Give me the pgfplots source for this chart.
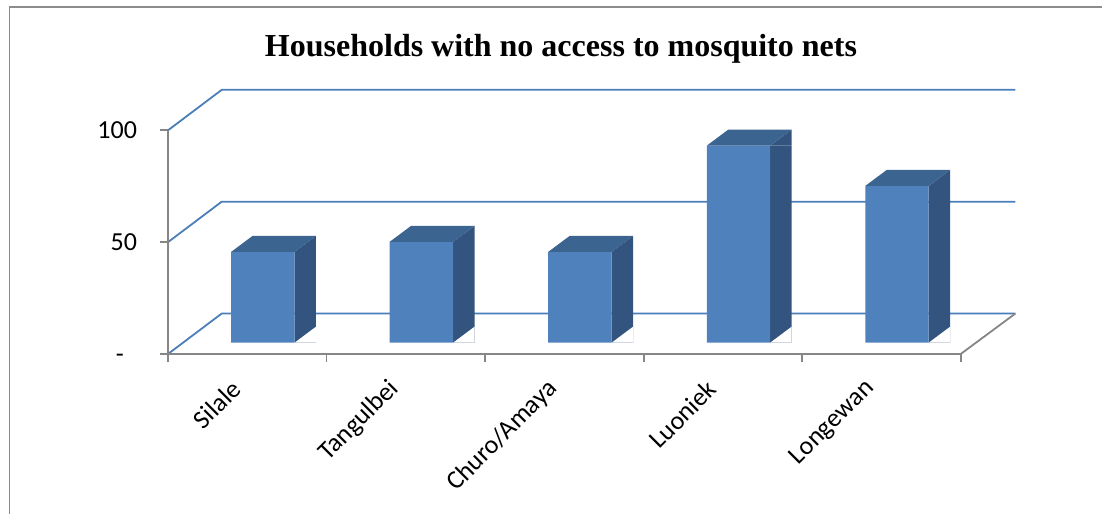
\documentclass[border=0pt]{standalone}
\usepackage{pgfplots}
\pgfplotsset{compat=1.18}
\usepackage{pgfplotstable}
\usepackage{fontspec}
\setmainfont{Carlito}
\newfontfamily\titlefont{Liberation Serif}

\definecolor{barfront}{HTML}{4F81BD}
\definecolor{bartop}{HTML}{3C6491}
\definecolor{barside}{HTML}{32547E}
\definecolor{gridblue}{HTML}{4A7EBB}
\definecolor{axisgray}{HTML}{868686}
\definecolor{framegray}{HTML}{8C8C8C}

% Faces of the prism drawn as marks at a bar's data point.
% Front face spans -8.05pt .. 23.65pt around the category centre,
% the depth of every prism is (10.7pt, 8pt).
\pgfdeclareplotmark{prism top}{%
  \pgfpathmoveto{\pgfqpoint{-8.05pt}{0pt}}%
  \pgfpathlineto{\pgfqpoint{23.65pt}{0pt}}%
  \pgfpathlineto{\pgfqpoint{34.35pt}{8pt}}%
  \pgfpathlineto{\pgfqpoint{2.65pt}{8pt}}%
  \pgfpathclose
  \pgfusepathqfill}
\pgfdeclareplotmark{prism wedge}{%
  \pgfpathmoveto{\pgfqpoint{23.65pt}{0pt}}%
  \pgfpathlineto{\pgfqpoint{34.35pt}{0pt}}%
  \pgfpathlineto{\pgfqpoint{34.35pt}{8pt}}%
  \pgfpathclose
  \pgfusepathqfill}

\pgfplotstableread{
idx value
0 40.6
1 45.1
2 40.6
3 88.1
4 70.1
}\households

\begin{document}
\begin{tikzpicture}
\useasboundingbox (-84pt,-80pt) rectangle (467pt,177pt);
\draw[framegray, line width=0.9pt] (-79.25pt,-80pt) -- (-79.25pt,173.65pt) -- (467pt,173.65pt);
\begin{axis}[
  at={(0pt,0pt)}, anchor=south west,
  scale only axis, width=396.35pt, height=111.85pt,
  xmin=-0.5, xmax=4.5, ymin=-5.045, ymax=94.955,
  clip=false,
  axis line style={draw=none},
  xtick pos=bottom, ytick pos=left,
  tick align=outside, major tick length=4pt,
  tick style={axisgray, line width=0.9pt},
  tick label style={font=\fontsize{13}{15.5}\selectfont},
  xtick={-0.5,0.5,...,4.5}, xticklabels={},
  extra x ticks={0,1,2,3,4},
  extra x tick labels={Silale,Tangulbei,Churo/Amaya,Luoniek,Longewan},
  extra x tick style={major tick length=0pt,
    tick label style={xshift=-3pt, yshift=-13pt, rotate=45, anchor=east}},
  ytick={-5.045,44.955,94.955},
  yticklabels={-\phantom{0},50,100},
  yticklabel style={xshift=-8pt},
]
% walls and floor
\draw[gridblue, line width=0.9pt] (axis cs:-0.5,-5.045) -- (axis cs:-0.161,13.055) -- (axis cs:4.845,13.055);
\draw[gridblue, line width=0.9pt] (axis cs:-0.5,44.955) -- (axis cs:-0.161,63.055) -- (axis cs:4.845,63.055);
\draw[gridblue, line width=0.9pt] (axis cs:-0.5,94.955) -- (axis cs:-0.161,113.055) -- (axis cs:4.845,113.055);
\draw[axisgray, line width=0.9pt] (axis cs:-0.5,94.955) -- (axis cs:-0.5,-5.045) -- (axis cs:4.5,-5.045) -- (axis cs:4.845,13.055);
% prisms
\addplot[ybar, bar width=0.135, bar shift=0.3659, fill=barside, draw=none]
  table[x=idx, y=value] {\households};
\addplot[only marks, mark=prism wedge, mark options={fill=white, draw=none}]
  table[x=idx, y expr=0] {\households};
\addplot[only marks, mark=prism wedge, mark options={fill=barside, draw=none}]
  table[x=idx, y=value] {\households};
\addplot[only marks, mark=prism top, mark options={fill=bartop, draw=none}]
  table[x=idx, y=value] {\households};
\addplot[ybar, bar width=0.4, bar shift=0.0984, fill=barfront, draw=none]
  table[x=idx, y=value] {\households};
\end{axis}
\node[font=\titlefont\bfseries\fontsize{16}{19}\selectfont, anchor=base]
  at (196.5pt,148.5pt) {Households with no access to mosquito nets};
\end{tikzpicture}
\end{document}
